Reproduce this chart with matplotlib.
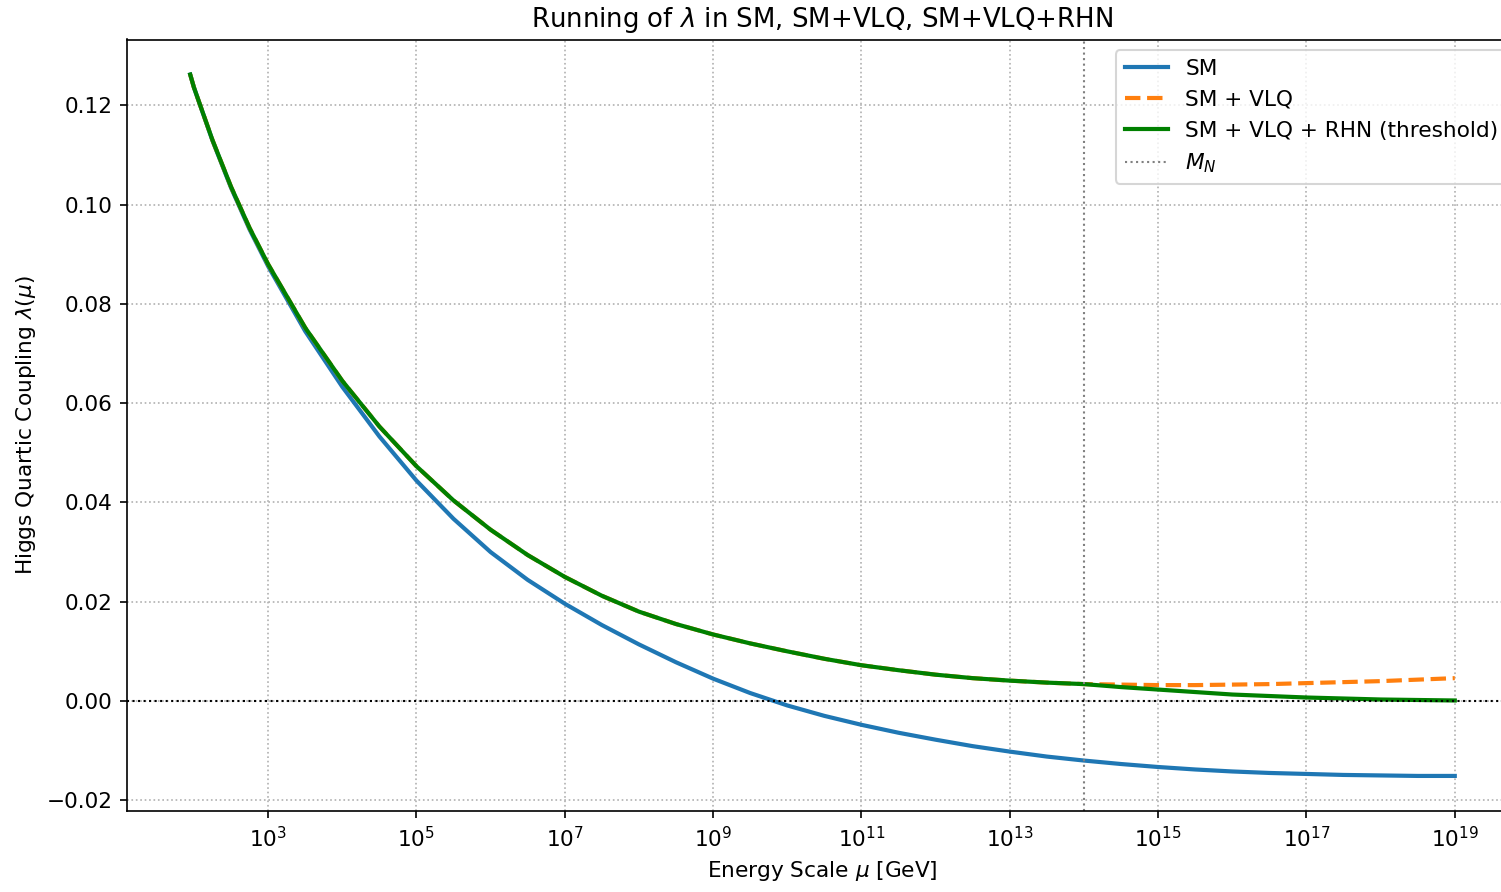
import numpy as np
import matplotlib
matplotlib.use("Agg")
import matplotlib.pyplot as plt
from matplotlib.ticker import NullLocator

# log10 of energy scale mu [GeV]
log_mu = [1.95, 2.0, 2.25, 2.5, 2.75, 3.0, 3.5, 4.0, 4.5, 5.0, 5.5, 6.0, 6.5,
          7.0, 7.5, 8.0, 8.5, 9.0, 9.5, 10.0, 10.5, 11.0, 11.5, 12.0, 12.5,
          13.0, 13.5, 14.0, 14.5, 15.0, 15.5, 16.0, 16.5, 17.0, 17.5, 18.0,
          18.5, 19.0]

lam_sm = [0.1262, 0.1236, 0.1129, 0.1034, 0.0950, 0.0876, 0.0745, 0.0633, 0.0533,
          0.0444, 0.0367, 0.0300, 0.0244, 0.0196, 0.0153, 0.0114, 0.0078, 0.0045,
          0.0016, -0.0009, -0.0030, -0.0048, -0.0064, -0.0078, -0.0091, -0.0102,
          -0.0112, -0.0120, -0.0127, -0.0133, -0.0138, -0.0142, -0.0145, -0.0147,
          -0.0149, -0.0150, -0.0151, -0.0151]

lam_vlq = [0.1262, 0.1236, 0.1130, 0.1036, 0.0953, 0.0880, 0.0752, 0.0645, 0.0553,
           0.0473, 0.0404, 0.0345, 0.0294, 0.0250, 0.0212, 0.0180, 0.0155, 0.0134,
           0.0116, 0.0100, 0.0085, 0.0072, 0.0062, 0.0053, 0.0046, 0.0041,
           0.0037, 0.0034, 0.0033, 0.0032, 0.0032, 0.0033, 0.0034, 0.0036,
           0.0038, 0.0040, 0.0043, 0.0046]

lam_rhn = [0.1262, 0.1236, 0.1130, 0.1036, 0.0953, 0.0880, 0.0752, 0.0645, 0.0553,
           0.0473, 0.0404, 0.0345, 0.0294, 0.0250, 0.0212, 0.0180, 0.0155, 0.0134,
           0.0116, 0.0100, 0.0085, 0.0072, 0.0062, 0.0053, 0.0046, 0.0041,
           0.0037, 0.0034, 0.0028, 0.0023, 0.0018, 0.0013, 0.0010, 0.0007,
           0.0005, 0.0003, 0.0002, 0.0001]

M_N = 1e14
xtick_exps = [3, 5, 7, 9, 11, 13, 15, 17, 19]

mu = 10.0 ** np.array(log_mu)

plt.rcParams["font.size"] = 10.4
plt.rcParams["axes.titlesize"] = 12.5

fig = plt.figure(figsize=(1501 / 150, 892 / 150), dpi=150)
# axes runs past the right edge, like the cropped original
ax = fig.add_axes([127 / 1501, (892 - 811) / 892, 1391 / 1501, (811 - 39.5) / 892])

ax.plot(mu, lam_sm, color="tab:blue", lw=2, label="SM")
ax.plot(mu, lam_vlq, color="tab:orange", ls="--", lw=2, label="SM + VLQ")
ax.plot(mu, lam_rhn, color="green", lw=2, label="SM + VLQ + RHN (threshold)")
ax.axvline(M_N, color="gray", ls=":", lw=1, label="$M_N$")
ax.axhline(0, color="black", ls=":", lw=1)

ax.set_xscale("log")
ax.set_xticks([10.0 ** e for e in xtick_exps])
ax.xaxis.set_minor_locator(NullLocator())
ax.set_xlabel(r"Energy Scale $\mu$ [GeV]")
ax.set_ylabel(r"Higgs Quartic Coupling $\lambda(\mu)$")
ax.set_title(r"Running of $\lambda$ in SM, SM+VLQ, SM+VLQ+RHN")
ax.grid(True, ls=":")
ax.legend(loc="upper right")

fig.savefig("out.png", dpi=150)
